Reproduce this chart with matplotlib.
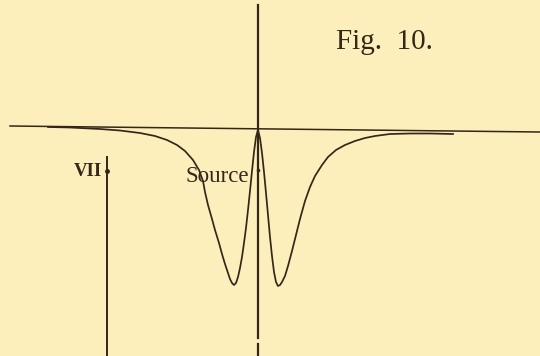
import matplotlib.pyplot as plt

# Curve (x right, y down, in picture units)
curve_x = [48, 70, 100, 120, 140, 155, 167, 177, 185, 193, 199, 203, 205, 208,
           212, 215, 219, 222, 225, 228, 230, 232, 234, 236, 238, 240, 242,
           244, 246, 248, 250, 252, 254, 256, 258, 260, 262, 264, 266, 268,
           270, 272, 274, 276, 278, 280, 282, 285, 288, 292, 296, 300, 305,
           310, 315, 322, 328, 336, 345, 355, 365, 375, 390, 410, 430, 453]
curve_y = [127, 127.5, 129, 130.5, 133, 136, 140, 145, 151, 160, 170, 181, 192,
           205, 219, 230, 243, 254, 264, 273, 279, 283, 285, 283, 277, 268,
           257, 243, 228, 210, 191, 171, 152, 137, 130, 138, 153, 172, 193,
           215, 237, 256, 272, 282, 286, 285, 282, 276, 266, 251, 235, 219,
           201, 187, 176, 165, 157, 150, 145, 141, 138, 136, 134, 133.5,
           133.5, 134]

# Straight rules
base_x = [10, 540]
base_y = [126, 132]
axis_x = 258
axis_top, axis_gap1, axis_gap2, axis_bottom = 5, 338, 344, 356
vii_x = 107
vii_top, vii_bottom, vii_dot = 157, 356, 171
source_dot = 170

bg = '#fcefbb'
ink = '#35261a'

fig = plt.figure(figsize=(5.4, 3.56), dpi=100)
fig.patch.set_facecolor(bg)
ax = fig.add_axes([0, 0, 1, 1])
ax.set_facecolor(bg)
ax.set_xlim(0, 540)
ax.set_ylim(356, 0)
ax.axis('off')

serif = ['Liberation Serif', 'DejaVu Serif']

# baseline and verticals
ax.plot(base_x, base_y, color=ink, lw=1.1)
ax.plot([axis_x, axis_x], [axis_top, axis_gap1], color=ink, lw=1.6)
ax.plot([axis_x, axis_x], [axis_gap2, axis_bottom], color=ink, lw=1.6)
ax.plot([vii_x, vii_x], [vii_top, vii_bottom], color=ink, lw=1.4)
ax.plot([vii_x], [vii_dot], 'o', color=ink, ms=2.5)
ax.plot([axis_x], [source_dot], 'o', color=ink, ms=1.6)

# the curve
ax.plot(curve_x, curve_y, color=ink, lw=1.25, solid_joinstyle='round')

# labels
ax.text(384, 42, 'Fig.  10.', family=serif, fontsize=21, color=ink,
        ha='center', va='center')
ax.text(102, 171, 'VII', family=serif, fontsize=13.5, fontweight='bold',
        color=ink, ha='right', va='center')
ax.text(217, 177, 'Source', family=serif, fontsize=16.5, color=ink,
        ha='center', va='center')

fig.savefig('out.png', dpi=100, facecolor=bg)
